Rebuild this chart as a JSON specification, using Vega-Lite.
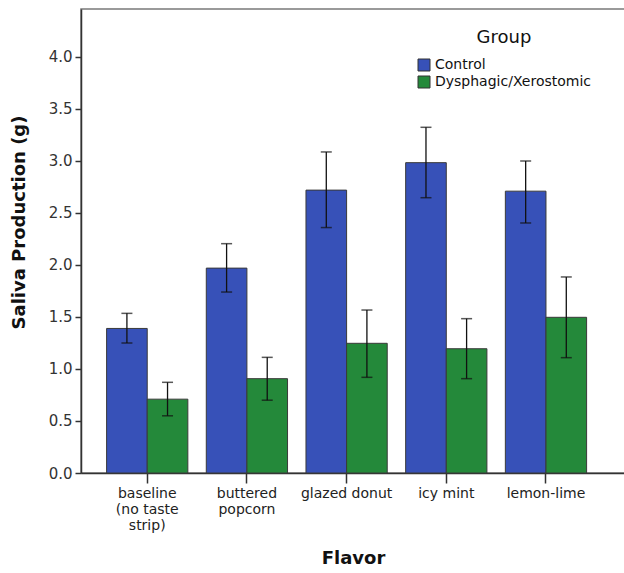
{
  "$schema": "https://vega.github.io/schema/vega-lite/v6.json",
  "autosize": {"type": "none"},
  "padding": {"left": 81, "top": 9, "right": 0, "bottom": 100},
  "width": 544,
  "height": 464,
  "background": "white",
  "config": {
    "view": {"stroke": "#7a7a7a", "strokeWidth": 1.5},
    "font": "DejaVu Sans"
  },
  "data": {
    "values": [
      {"flavor": "baseline (no taste strip)", "group": "Control", "mean": 1.39, "lo": 1.25, "hi": 1.535},
      {"flavor": "buttered popcorn", "group": "Control", "mean": 1.97, "lo": 1.74, "hi": 2.205},
      {"flavor": "glazed donut", "group": "Control", "mean": 2.72, "lo": 2.36, "hi": 3.087},
      {"flavor": "icy mint", "group": "Control", "mean": 2.984, "lo": 2.647, "hi": 3.324},
      {"flavor": "lemon-lime", "group": "Control", "mean": 2.71, "lo": 2.404, "hi": 3.0},
      {"flavor": "baseline (no taste strip)", "group": "Dysphagic/Xerostomic", "mean": 0.71, "lo": 0.55, "hi": 0.872},
      {"flavor": "buttered popcorn", "group": "Dysphagic/Xerostomic", "mean": 0.907, "lo": 0.7, "hi": 1.112},
      {"flavor": "glazed donut", "group": "Dysphagic/Xerostomic", "mean": 1.247, "lo": 0.92, "hi": 1.567},
      {"flavor": "icy mint", "group": "Dysphagic/Xerostomic", "mean": 1.195, "lo": 0.907, "hi": 1.484},
      {"flavor": "lemon-lime", "group": "Dysphagic/Xerostomic", "mean": 1.497, "lo": 1.109, "hi": 1.885}
    ]
  },
  "encoding": {
    "x": {
      "field": "flavor",
      "type": "nominal",
      "sort": null,
      "scale": {"paddingInner": 0.185, "paddingOuter": 0.321, "align": 0.4},
      "axis": {
        "title": "Flavor",
        "titleFontSize": 18,
        "titleFontWeight": "bold",
        "titleColor": "#111",
        "titleY": 85,
        "titleBaseline": "middle",
        "labelAngle": 0,
        "labelFontSize": 14,
        "labelColor": "#222",
        "labelLineHeight": 16,
        "labelPadding": 3,
        "labelExpr": "datum.value == 'baseline (no taste strip)' ? ['baseline', '(no taste', 'strip)'] : datum.value == 'buttered popcorn' ? ['buttered', 'popcorn'] : datum.value",
        "tickSize": 10,
        "tickColor": "#333",
        "tickWidth": 1.5,
        "domainColor": "#333",
        "domainWidth": 1.5
      }
    },
    "xOffset": {"field": "group", "type": "nominal", "scale": {"paddingInner": 0, "paddingOuter": 0}}
  },
  "layer": [
    {
      "mark": {"type": "bar", "stroke": "#3a3a3a", "strokeWidth": 1},
      "encoding": {
        "y": {
          "field": "mean",
          "type": "quantitative",
          "scale": {"domain": [0, 4.4615], "nice": false},
          "axis": {
            "title": "Saliva Production (g)",
            "titleFontSize": 18,
            "titleFontWeight": "bold",
            "titleColor": "#111",
            "titleX": -53,
            "titleY": 213,
            "values": [0, 0.5, 1, 1.5, 2, 2.5, 3, 3.5, 4],
            "format": ".1f",
            "grid": false,
            "labelFontSize": 15,
            "labelColor": "#333",
            "labelPadding": 3,
            "tickSize": 6,
            "tickColor": "#333",
            "tickWidth": 1.5,
            "domainColor": "#333",
            "domainWidth": 1.5
          }
        },
        "fill": {
          "field": "group",
          "type": "nominal",
          "scale": {"domain": ["Control", "Dysphagic/Xerostomic"], "range": ["#3751b8", "#24893a"]},
          "legend": {
            "title": "Group",
            "orient": "none",
            "legendX": 336,
            "legendY": 20,
            "titleFontSize": 18,
            "titleFontWeight": "normal",
            "titleColor": "#111",
            "titleAnchor": "middle",
            "titlePadding": 11,
            "labelFontSize": 14,
            "labelColor": "#111",
            "symbolType": "square",
            "symbolSize": 144,
            "symbolStrokeColor": "#333",
            "symbolStrokeWidth": 1,
            "rowPadding": 1,
            "labelOffset": 4
          }
        }
      }
    },
    {
      "mark": {"type": "rule", "color": "#111", "strokeWidth": 1.3},
      "encoding": {
        "y": {"field": "lo", "type": "quantitative"},
        "y2": {"field": "hi"}
      }
    },
    {
      "mark": {"type": "tick", "color": "#111", "thickness": 1.5, "size": 11, "orient": "horizontal"},
      "encoding": {"y": {"field": "lo", "type": "quantitative"}}
    },
    {
      "mark": {"type": "tick", "color": "#111", "thickness": 1.5, "size": 11, "orient": "horizontal"},
      "encoding": {"y": {"field": "hi", "type": "quantitative"}}
    }
  ]
}
